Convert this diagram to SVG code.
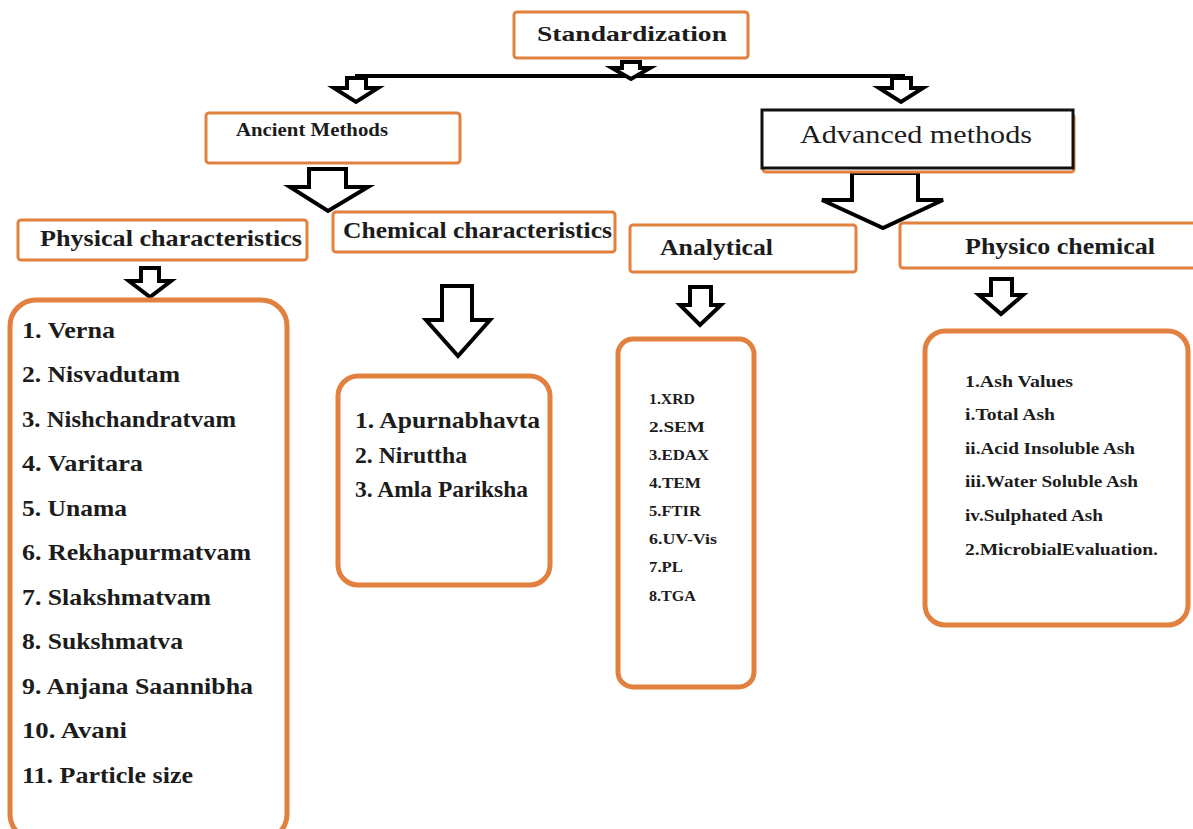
<svg xmlns="http://www.w3.org/2000/svg" width="1193" height="829" viewBox="0 0 1193 829">
<style>
.hb{fill:#fff;stroke:#e2813f;stroke-width:3}
.lb{fill:#fff;stroke:#e2813f;stroke-width:5}
.t{font-family:"Liberation Serif","Times New Roman",serif;font-weight:bold;fill:#1c1c1c}
.ar{fill:#fff;stroke:#000;stroke-width:4;stroke-linejoin:miter}
</style>
<rect width="1193" height="829" fill="#fff"/>
<g id="connectors">
<line x1="355" y1="76" x2="905" y2="76" stroke="#000" stroke-width="4"/>
<polygon class="ar" points="622,62 640,62 640,68 650,68 631,79 612,68 622,68"/>
<polygon class="ar" points="347,78 366,78 366,88 378,88 356,102 334,88 347,88"/>
<polygon class="ar" points="892,78 911,78 911,88 923,88 901,102 879,88 892,88"/>
<polygon class="ar" points="309,169 346,169 346,187 368,187 328,211 290,187 309,187"/>
<polygon class="ar" points="852,173 918,173 918,200 943,200 883,228 822,200 852,200"/>
<polygon class="ar" points="141,268 159,268 159,281 171,281 150,297 129,281 141,281"/>
<polygon class="ar" points="442,286 472,286 472,320 490,320 458,356 426,320 442,320"/>
<polygon class="ar" points="690,287 711,287 711,305 721,305 700,325 680,305 690,305"/>
<polygon class="ar" points="991,279 1012,279 1012,295 1023,295 1001,314 979,295 991,295"/>
</g>
<g id="standardization">
<rect class="hb" x="514" y="12" width="234" height="46" rx="3"/>
<text class="t" x="537" y="41" font-size="22" textLength="190" lengthAdjust="spacingAndGlyphs">Standardization</text>
</g>
<g id="ancient">
<rect class="hb" x="206" y="113" width="254" height="50" rx="3"/>
<text class="t" x="236" y="136" font-size="19" textLength="152" lengthAdjust="spacingAndGlyphs">Ancient Methods</text>
</g>
<g id="advanced">
<rect x="763" y="114" width="311" height="58" fill="none" stroke="#e2813f" stroke-width="3" rx="3"/>
<rect x="762" y="110" width="311" height="58" fill="#fff" stroke="#111" stroke-width="3"/>
<text x="800" y="143" font-size="25" font-family="Liberation Serif, serif" fill="#1c1c1c" textLength="232" lengthAdjust="spacingAndGlyphs">Advanced methods</text>
</g>
<g id="physical">
<rect class="hb" x="18" y="220" width="289" height="40" rx="3"/>
<text class="t" x="40" y="246" font-size="23" textLength="262" lengthAdjust="spacingAndGlyphs">Physical characteristics</text>
</g>
<g id="chemical">
<rect class="hb" x="333" y="212" width="282" height="40" rx="3"/>
<text class="t" x="343" y="238" font-size="23" textLength="269" lengthAdjust="spacingAndGlyphs">Chemical characteristics</text>
</g>
<g id="analytical">
<rect class="hb" x="630" y="225" width="226" height="47" rx="3"/>
<text class="t" x="660" y="255" font-size="23" textLength="113" lengthAdjust="spacingAndGlyphs">Analytical</text>
</g>
<g id="physico">
<rect class="hb" x="900" y="223" width="300" height="45" rx="3"/>
<text class="t" x="965" y="254" font-size="23" textLength="190" lengthAdjust="spacingAndGlyphs">Physico chemical</text>
</g>
<g id="physical-list">
<rect class="lb" x="10" y="300" width="277" height="540" rx="26"/>
<g class="t" font-size="23">
<text x="22" y="338" textLength="93" lengthAdjust="spacingAndGlyphs">1. Verna</text>
<text x="22" y="382" textLength="158" lengthAdjust="spacingAndGlyphs">2. Nisvadutam</text>
<text x="22" y="427" textLength="214" lengthAdjust="spacingAndGlyphs">3. Nishchandratvam</text>
<text x="22" y="471" textLength="121" lengthAdjust="spacingAndGlyphs">4. Varitara</text>
<text x="22" y="516" textLength="105" lengthAdjust="spacingAndGlyphs">5. Unama</text>
<text x="22" y="560" textLength="229" lengthAdjust="spacingAndGlyphs">6. Rekhapurmatvam</text>
<text x="22" y="605" textLength="189" lengthAdjust="spacingAndGlyphs">7. Slakshmatvam</text>
<text x="22" y="649" textLength="161" lengthAdjust="spacingAndGlyphs">8. Sukshmatva</text>
<text x="22" y="694" textLength="231" lengthAdjust="spacingAndGlyphs">9. Anjana Saannibha</text>
<text x="22" y="738" textLength="105" lengthAdjust="spacingAndGlyphs">10. Avani</text>
<text x="22" y="783" textLength="171" lengthAdjust="spacingAndGlyphs">11. Particle size</text>
</g>
</g>
<g id="chemical-list">
<rect class="lb" x="338" y="376" width="212" height="209" rx="20"/>
<g class="t" font-size="23">
<text x="355" y="428" textLength="185" lengthAdjust="spacingAndGlyphs">1. Apurnabhavta</text>
<text x="355" y="463" textLength="112" lengthAdjust="spacingAndGlyphs">2. Niruttha</text>
<text x="355" y="497" textLength="173" lengthAdjust="spacingAndGlyphs">3. Amla Pariksha</text>
</g>
</g>
<g id="analytical-list">
<rect class="lb" x="618" y="339" width="136" height="348" rx="15"/>
<g class="t" font-size="15">
<text x="649" y="404" textLength="46" lengthAdjust="spacingAndGlyphs">1.XRD</text>
<text x="649" y="432" textLength="56" lengthAdjust="spacingAndGlyphs">2.SEM</text>
<text x="649" y="460" textLength="60" lengthAdjust="spacingAndGlyphs">3.EDAX</text>
<text x="649" y="488" textLength="52" lengthAdjust="spacingAndGlyphs">4.TEM</text>
<text x="649" y="516" textLength="52" lengthAdjust="spacingAndGlyphs">5.FTIR</text>
<text x="649" y="544" textLength="68" lengthAdjust="spacingAndGlyphs">6.UV-Vis</text>
<text x="649" y="572" textLength="34" lengthAdjust="spacingAndGlyphs">7.PL</text>
<text x="649" y="601" textLength="47" lengthAdjust="spacingAndGlyphs">8.TGA</text>
</g>
</g>
<g id="physico-list">
<rect class="lb" x="925" y="331" width="263" height="294" rx="20"/>
<g class="t" font-size="16">
<text x="965" y="387" textLength="108" lengthAdjust="spacingAndGlyphs">1.Ash Values</text>
<text x="965" y="420" textLength="90" lengthAdjust="spacingAndGlyphs">i.Total Ash</text>
<text x="965" y="454" textLength="170" lengthAdjust="spacingAndGlyphs">ii.Acid Insoluble Ash</text>
<text x="965" y="487" textLength="173" lengthAdjust="spacingAndGlyphs">iii.Water Soluble Ash</text>
<text x="965" y="521" textLength="138" lengthAdjust="spacingAndGlyphs">iv.Sulphated Ash</text>
<text x="965" y="555" textLength="193" lengthAdjust="spacingAndGlyphs">2.MicrobialEvaluation.</text>
</g>
</g>
</svg>
